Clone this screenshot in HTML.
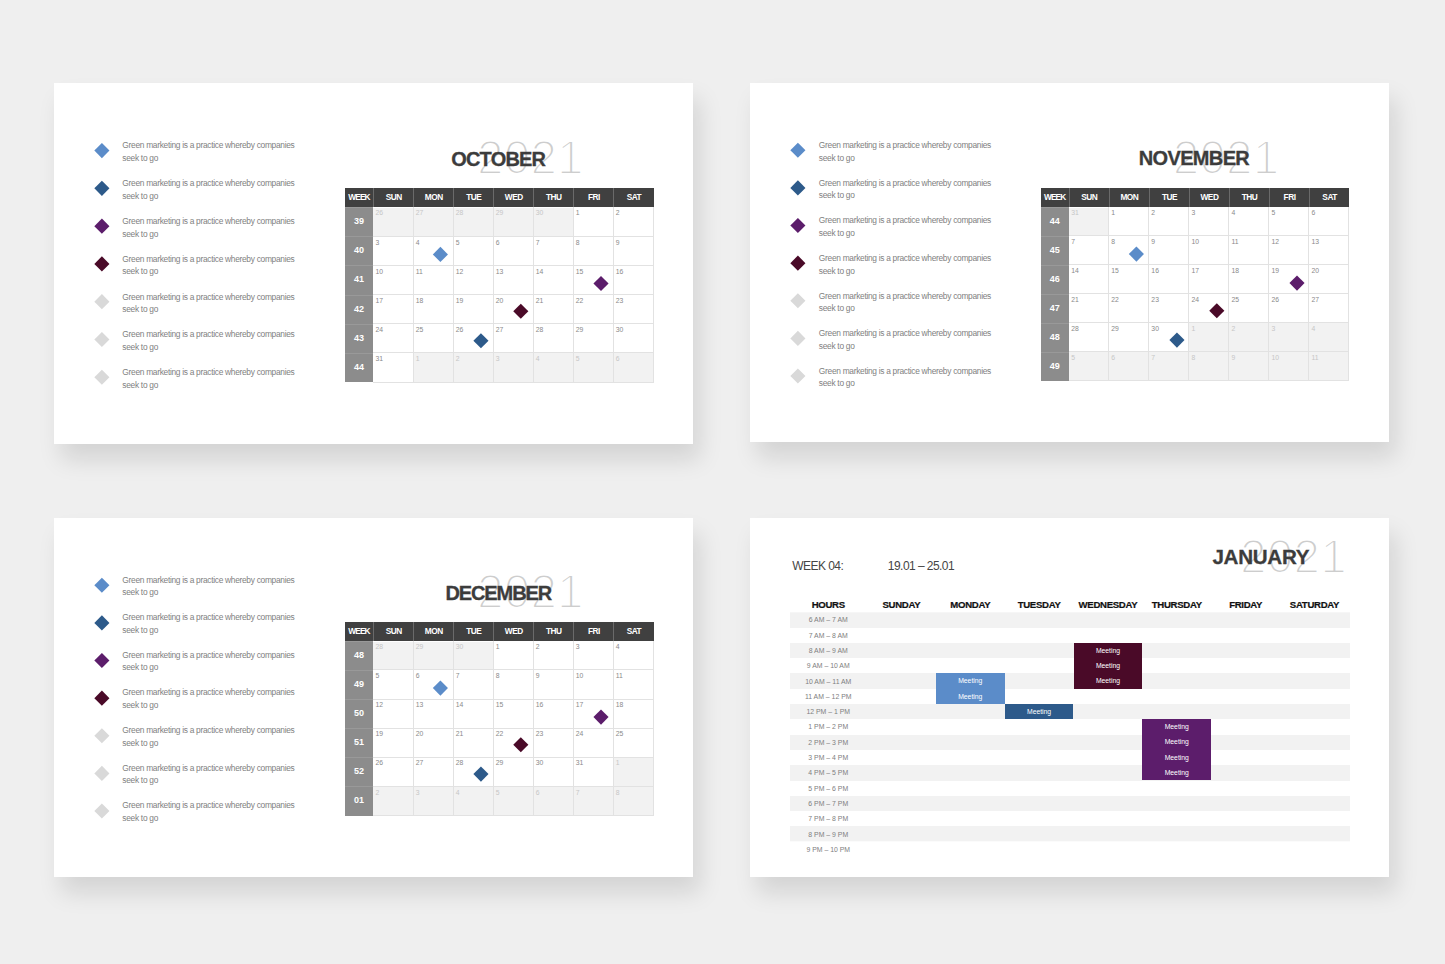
<!DOCTYPE html>
<html lang="en"><head><meta charset="utf-8"><title>Calendar slides</title>
<style>
*{margin:0;padding:0;box-sizing:border-box}
html,body{width:1445px;height:964px;overflow:hidden;background:#efefef}
body{position:relative;font-family:"Liberation Sans",sans-serif;color:#7f7f7f}
.card{position:absolute;width:639.2px;height:359px;background:#fff;
 box-shadow:7px 16px 22px rgba(0,0,0,.115)}
.abs{position:absolute}
.dm{position:absolute;left:0;top:0;width:10px;height:10px;transform-origin:5px 5px}
.lg{position:absolute;left:68.6px;width:200px;font-size:8.4px;letter-spacing:-.3px;line-height:12.5px;color:#7f7f7f;white-space:nowrap}
.ttl{position:absolute;font-weight:700;font-size:20px;line-height:24px;color:#3c3c3c;white-space:nowrap;text-align:center;-webkit-text-stroke:.3px #3c3c3c}
.yr{position:absolute;font-size:47.7px;line-height:48px;color:#cdcdcd;white-space:nowrap;-webkit-text-stroke:2.1px #fff;letter-spacing:.2px}
.cal{position:absolute;left:291.25px;top:105px;width:308.25px;height:194px}
.hd{position:absolute;top:0;background:#404040;color:#fff;font-weight:700;font-size:8.3px;text-align:center;border-left:1px solid #6a6a6a;letter-spacing:-.5px}
.hd.first{border-left:0}
.wk{position:absolute;left:0;width:28px;background:#8c8c8c;color:#fff;font-weight:700;font-size:9px;text-align:center;border-top:1px solid #999}
.c{position:absolute;width:40.04px;font-size:6.8px;line-height:8px;padding:2.3px 0 0 2.6px;color:#8a8a8a}
.c.o{background:#f2f2f2;color:#c6c6c6}
.vl{position:absolute;width:1px;background:#e2e2e2}
.hl{position:absolute;height:1px;background:#e2e2e2;left:28px;width:280.8px}
.sh{position:absolute;font-weight:700;font-size:9.6px;letter-spacing:-.3px;line-height:12px;color:#111;text-align:center;white-space:nowrap;-webkit-text-stroke:.2px #111}
.st{position:absolute;left:39.5px;top:0;width:560px;height:229.5px;transform:translateY(94.3px);background:repeating-linear-gradient(180deg,#f2f2f2 0,#f2f2f2 15.3px,#fff 15.3px,#fff 30.6px)}
.hr{position:absolute;left:39.5px;width:77px;text-align:center;font-size:6.9px;line-height:15.3px;height:15.3px;color:#808080;white-space:nowrap}
.mt{position:absolute;width:68.85px;color:#fff;font-size:6.8px;text-align:center}
.mt div{height:15.3px;line-height:16.2px}
.wl{position:absolute;font-size:12px;line-height:16px;color:#454545;letter-spacing:-.55px;white-space:nowrap}
</style></head><body>
<div class="card" style="left:53.75px;top:83.1px;height:360.9px">
<div class="dm" style="transform:translate(42.90px,62.58px) rotate(45deg) scale(1.07);background:#5b8cc9"></div>
<div class="lg" style="top:56.38px">Green marketing is a practice whereby companies<br>seek to go</div>
<div class="dm" style="transform:translate(42.90px,100.36px) rotate(45deg) scale(1.07);background:#2d5a8a"></div>
<div class="lg" style="top:94.16px">Green marketing is a practice whereby companies<br>seek to go</div>
<div class="dm" style="transform:translate(42.90px,138.14px) rotate(45deg) scale(1.07);background:#5c1d6b"></div>
<div class="lg" style="top:131.94px">Green marketing is a practice whereby companies<br>seek to go</div>
<div class="dm" style="transform:translate(42.90px,175.92px) rotate(45deg) scale(1.07);background:#4a0a28"></div>
<div class="lg" style="top:169.72px">Green marketing is a practice whereby companies<br>seek to go</div>
<div class="dm" style="transform:translate(42.90px,213.69px) rotate(45deg) scale(1.07);background:#d9d9d9"></div>
<div class="lg" style="top:207.49px">Green marketing is a practice whereby companies<br>seek to go</div>
<div class="dm" style="transform:translate(42.90px,251.47px) rotate(45deg) scale(1.07);background:#d9d9d9"></div>
<div class="lg" style="top:245.27px">Green marketing is a practice whereby companies<br>seek to go</div>
<div class="dm" style="transform:translate(42.90px,289.25px) rotate(45deg) scale(1.07);background:#d9d9d9"></div>
<div class="lg" style="top:283.05px">Green marketing is a practice whereby companies<br>seek to go</div>
<div class="yr" style="left:423.20px;top:50.71px">2021</div>
<div class="ttl" style="left:294.50px;width:300px;top:63.67px;letter-spacing:-0.8px">OCTOBER</div>
<div class="cal" style="left:291.25px;top:105.39px">
<div class="hd first" style="left:0;width:28px;letter-spacing:-.85px;height:18.58px;line-height:18.08px">WEEK</div>
<div class="hd" style="left:28.00px;width:40.34px;height:18.58px;line-height:18.08px">SUN</div>
<div class="hd" style="left:68.04px;width:40.34px;height:18.58px;line-height:18.08px">MON</div>
<div class="hd" style="left:108.08px;width:40.34px;height:18.58px;line-height:18.08px">TUE</div>
<div class="hd" style="left:148.12px;width:40.34px;height:18.58px;line-height:18.08px">WED</div>
<div class="hd" style="left:188.16px;width:40.34px;height:18.58px;line-height:18.08px">THU</div>
<div class="hd" style="left:228.20px;width:40.34px;height:18.58px;line-height:18.08px">FRI</div>
<div class="hd" style="left:268.24px;width:40.34px;height:18.58px;line-height:18.08px">SAT</div>
<div class="wk" style="top:18.58px;height:29.48px;line-height:27.78px">39</div>
<div class="c o" style="left:28.00px;top:18.58px;height:29.48px">26</div>
<div class="c o" style="left:68.04px;top:18.58px;height:29.48px">27</div>
<div class="c o" style="left:108.08px;top:18.58px;height:29.48px">28</div>
<div class="c o" style="left:148.12px;top:18.58px;height:29.48px">29</div>
<div class="c o" style="left:188.16px;top:18.58px;height:29.48px">30</div>
<div class="c" style="left:228.20px;top:18.58px;height:29.48px">1</div>
<div class="c" style="left:268.24px;top:18.58px;height:29.48px">2</div>
<div class="wk" style="top:47.76px;height:29.48px;line-height:27.78px">40</div>
<div class="c" style="left:28.00px;top:47.76px;height:29.48px">3</div>
<div class="c" style="left:68.04px;top:47.76px;height:29.48px">4</div>
<div class="c" style="left:108.08px;top:47.76px;height:29.48px">5</div>
<div class="c" style="left:148.12px;top:47.76px;height:29.48px">6</div>
<div class="c" style="left:188.16px;top:47.76px;height:29.48px">7</div>
<div class="c" style="left:228.20px;top:47.76px;height:29.48px">8</div>
<div class="c" style="left:268.24px;top:47.76px;height:29.48px">9</div>
<div class="wk" style="top:76.94px;height:29.48px;line-height:27.78px">41</div>
<div class="c" style="left:28.00px;top:76.94px;height:29.48px">10</div>
<div class="c" style="left:68.04px;top:76.94px;height:29.48px">11</div>
<div class="c" style="left:108.08px;top:76.94px;height:29.48px">12</div>
<div class="c" style="left:148.12px;top:76.94px;height:29.48px">13</div>
<div class="c" style="left:188.16px;top:76.94px;height:29.48px">14</div>
<div class="c" style="left:228.20px;top:76.94px;height:29.48px">15</div>
<div class="c" style="left:268.24px;top:76.94px;height:29.48px">16</div>
<div class="wk" style="top:106.12px;height:29.48px;line-height:27.78px">42</div>
<div class="c" style="left:28.00px;top:106.12px;height:29.48px">17</div>
<div class="c" style="left:68.04px;top:106.12px;height:29.48px">18</div>
<div class="c" style="left:108.08px;top:106.12px;height:29.48px">19</div>
<div class="c" style="left:148.12px;top:106.12px;height:29.48px">20</div>
<div class="c" style="left:188.16px;top:106.12px;height:29.48px">21</div>
<div class="c" style="left:228.20px;top:106.12px;height:29.48px">22</div>
<div class="c" style="left:268.24px;top:106.12px;height:29.48px">23</div>
<div class="wk" style="top:135.31px;height:29.48px;line-height:27.78px">43</div>
<div class="c" style="left:28.00px;top:135.31px;height:29.48px">24</div>
<div class="c" style="left:68.04px;top:135.31px;height:29.48px">25</div>
<div class="c" style="left:108.08px;top:135.31px;height:29.48px">26</div>
<div class="c" style="left:148.12px;top:135.31px;height:29.48px">27</div>
<div class="c" style="left:188.16px;top:135.31px;height:29.48px">28</div>
<div class="c" style="left:228.20px;top:135.31px;height:29.48px">29</div>
<div class="c" style="left:268.24px;top:135.31px;height:29.48px">30</div>
<div class="wk" style="top:164.49px;height:29.48px;line-height:27.78px">44</div>
<div class="c" style="left:28.00px;top:164.49px;height:29.48px">31</div>
<div class="c o" style="left:68.04px;top:164.49px;height:29.48px">1</div>
<div class="c o" style="left:108.08px;top:164.49px;height:29.48px">2</div>
<div class="c o" style="left:148.12px;top:164.49px;height:29.48px">3</div>
<div class="c o" style="left:188.16px;top:164.49px;height:29.48px">4</div>
<div class="c o" style="left:228.20px;top:164.49px;height:29.48px">5</div>
<div class="c o" style="left:268.24px;top:164.49px;height:29.48px">6</div>
<div class="hl" style="top:18.58px;background:#fff"></div>
<div class="vl" style="left:67.54px;top:18.58px;height:175.59px"></div>
<div class="vl" style="left:107.58px;top:18.58px;height:175.59px"></div>
<div class="vl" style="left:147.62px;top:18.58px;height:175.59px"></div>
<div class="vl" style="left:187.66px;top:18.58px;height:175.59px"></div>
<div class="vl" style="left:227.70px;top:18.58px;height:175.59px"></div>
<div class="vl" style="left:267.74px;top:18.58px;height:175.59px"></div>
<div class="vl" style="left:307.78px;top:18.58px;height:175.59px"></div>
<div class="hl" style="top:47.26px"></div>
<div class="hl" style="top:76.44px"></div>
<div class="hl" style="top:105.62px"></div>
<div class="hl" style="top:134.81px"></div>
<div class="hl" style="top:163.99px"></div>
<div class="hl" style="top:193.17px"></div>
<div class="dm" style="transform:translate(90.40px,61.38px) rotate(45deg) scale(1.07);background:#5b8cc9"></div>
<div class="dm" style="transform:translate(251.00px,90.50px) rotate(45deg) scale(1.07);background:#5c1d6b"></div>
<div class="dm" style="transform:translate(170.80px,118.27px) rotate(45deg) scale(1.07);background:#4a0a28"></div>
<div class="dm" style="transform:translate(130.95px,147.74px) rotate(45deg) scale(1.07);background:#2d5a8a"></div>
</div>
</div>
<div class="card" style="left:750.25px;top:83.1px;height:359.4px">
<div class="dm" style="transform:translate(42.90px,62.30px) rotate(45deg) scale(1.07);background:#5b8cc9"></div>
<div class="lg" style="top:56.10px">Green marketing is a practice whereby companies<br>seek to go</div>
<div class="dm" style="transform:translate(42.90px,99.92px) rotate(45deg) scale(1.07);background:#2d5a8a"></div>
<div class="lg" style="top:93.72px">Green marketing is a practice whereby companies<br>seek to go</div>
<div class="dm" style="transform:translate(42.90px,137.54px) rotate(45deg) scale(1.07);background:#5c1d6b"></div>
<div class="lg" style="top:131.34px">Green marketing is a practice whereby companies<br>seek to go</div>
<div class="dm" style="transform:translate(42.90px,175.16px) rotate(45deg) scale(1.07);background:#4a0a28"></div>
<div class="lg" style="top:168.96px">Green marketing is a practice whereby companies<br>seek to go</div>
<div class="dm" style="transform:translate(42.90px,212.78px) rotate(45deg) scale(1.07);background:#d9d9d9"></div>
<div class="lg" style="top:206.58px">Green marketing is a practice whereby companies<br>seek to go</div>
<div class="dm" style="transform:translate(42.90px,250.40px) rotate(45deg) scale(1.07);background:#d9d9d9"></div>
<div class="lg" style="top:244.20px">Green marketing is a practice whereby companies<br>seek to go</div>
<div class="dm" style="transform:translate(42.90px,288.02px) rotate(45deg) scale(1.07);background:#d9d9d9"></div>
<div class="lg" style="top:281.82px">Green marketing is a practice whereby companies<br>seek to go</div>
<div class="yr" style="left:422.40px;top:50.50px">2021</div>
<div class="ttl" style="left:293.70px;width:300px;top:63.40px;letter-spacing:-0.65px">NOVEMBER</div>
<div class="cal" style="left:290.45px;top:104.95px">
<div class="hd first" style="left:0;width:28px;letter-spacing:-.85px;height:18.50px;line-height:18.00px">WEEK</div>
<div class="hd" style="left:28.00px;width:40.34px;height:18.50px;line-height:18.00px">SUN</div>
<div class="hd" style="left:68.04px;width:40.34px;height:18.50px;line-height:18.00px">MON</div>
<div class="hd" style="left:108.08px;width:40.34px;height:18.50px;line-height:18.00px">TUE</div>
<div class="hd" style="left:148.12px;width:40.34px;height:18.50px;line-height:18.00px">WED</div>
<div class="hd" style="left:188.16px;width:40.34px;height:18.50px;line-height:18.00px">THU</div>
<div class="hd" style="left:228.20px;width:40.34px;height:18.50px;line-height:18.00px">FRI</div>
<div class="hd" style="left:268.24px;width:40.34px;height:18.50px;line-height:18.00px">SAT</div>
<div class="wk" style="top:18.50px;height:29.36px;line-height:27.66px">44</div>
<div class="c o" style="left:28.00px;top:18.50px;height:29.36px">31</div>
<div class="c" style="left:68.04px;top:18.50px;height:29.36px">1</div>
<div class="c" style="left:108.08px;top:18.50px;height:29.36px">2</div>
<div class="c" style="left:148.12px;top:18.50px;height:29.36px">3</div>
<div class="c" style="left:188.16px;top:18.50px;height:29.36px">4</div>
<div class="c" style="left:228.20px;top:18.50px;height:29.36px">5</div>
<div class="c" style="left:268.24px;top:18.50px;height:29.36px">6</div>
<div class="wk" style="top:47.56px;height:29.36px;line-height:27.66px">45</div>
<div class="c" style="left:28.00px;top:47.56px;height:29.36px">7</div>
<div class="c" style="left:68.04px;top:47.56px;height:29.36px">8</div>
<div class="c" style="left:108.08px;top:47.56px;height:29.36px">9</div>
<div class="c" style="left:148.12px;top:47.56px;height:29.36px">10</div>
<div class="c" style="left:188.16px;top:47.56px;height:29.36px">11</div>
<div class="c" style="left:228.20px;top:47.56px;height:29.36px">12</div>
<div class="c" style="left:268.24px;top:47.56px;height:29.36px">13</div>
<div class="wk" style="top:76.62px;height:29.36px;line-height:27.66px">46</div>
<div class="c" style="left:28.00px;top:76.62px;height:29.36px">14</div>
<div class="c" style="left:68.04px;top:76.62px;height:29.36px">15</div>
<div class="c" style="left:108.08px;top:76.62px;height:29.36px">16</div>
<div class="c" style="left:148.12px;top:76.62px;height:29.36px">17</div>
<div class="c" style="left:188.16px;top:76.62px;height:29.36px">18</div>
<div class="c" style="left:228.20px;top:76.62px;height:29.36px">19</div>
<div class="c" style="left:268.24px;top:76.62px;height:29.36px">20</div>
<div class="wk" style="top:105.68px;height:29.36px;line-height:27.66px">47</div>
<div class="c" style="left:28.00px;top:105.68px;height:29.36px">21</div>
<div class="c" style="left:68.04px;top:105.68px;height:29.36px">22</div>
<div class="c" style="left:108.08px;top:105.68px;height:29.36px">23</div>
<div class="c" style="left:148.12px;top:105.68px;height:29.36px">24</div>
<div class="c" style="left:188.16px;top:105.68px;height:29.36px">25</div>
<div class="c" style="left:228.20px;top:105.68px;height:29.36px">26</div>
<div class="c" style="left:268.24px;top:105.68px;height:29.36px">27</div>
<div class="wk" style="top:134.74px;height:29.36px;line-height:27.66px">48</div>
<div class="c" style="left:28.00px;top:134.74px;height:29.36px">28</div>
<div class="c" style="left:68.04px;top:134.74px;height:29.36px">29</div>
<div class="c" style="left:108.08px;top:134.74px;height:29.36px">30</div>
<div class="c o" style="left:148.12px;top:134.74px;height:29.36px">1</div>
<div class="c o" style="left:188.16px;top:134.74px;height:29.36px">2</div>
<div class="c o" style="left:228.20px;top:134.74px;height:29.36px">3</div>
<div class="c o" style="left:268.24px;top:134.74px;height:29.36px">4</div>
<div class="wk" style="top:163.80px;height:29.36px;line-height:27.66px">49</div>
<div class="c o" style="left:28.00px;top:163.80px;height:29.36px">5</div>
<div class="c o" style="left:68.04px;top:163.80px;height:29.36px">6</div>
<div class="c o" style="left:108.08px;top:163.80px;height:29.36px">7</div>
<div class="c o" style="left:148.12px;top:163.80px;height:29.36px">8</div>
<div class="c o" style="left:188.16px;top:163.80px;height:29.36px">9</div>
<div class="c o" style="left:228.20px;top:163.80px;height:29.36px">10</div>
<div class="c o" style="left:268.24px;top:163.80px;height:29.36px">11</div>
<div class="hl" style="top:18.50px;background:#fff"></div>
<div class="vl" style="left:67.54px;top:18.50px;height:174.86px"></div>
<div class="vl" style="left:107.58px;top:18.50px;height:174.86px"></div>
<div class="vl" style="left:147.62px;top:18.50px;height:174.86px"></div>
<div class="vl" style="left:187.66px;top:18.50px;height:174.86px"></div>
<div class="vl" style="left:227.70px;top:18.50px;height:174.86px"></div>
<div class="vl" style="left:267.74px;top:18.50px;height:174.86px"></div>
<div class="vl" style="left:307.78px;top:18.50px;height:174.86px"></div>
<div class="hl" style="top:47.06px"></div>
<div class="hl" style="top:76.12px"></div>
<div class="hl" style="top:105.18px"></div>
<div class="hl" style="top:134.24px"></div>
<div class="hl" style="top:163.30px"></div>
<div class="hl" style="top:192.36px"></div>
<div class="dm" style="transform:translate(90.40px,61.10px) rotate(45deg) scale(1.07);background:#5b8cc9"></div>
<div class="dm" style="transform:translate(251.00px,90.10px) rotate(45deg) scale(1.07);background:#5c1d6b"></div>
<div class="dm" style="transform:translate(170.80px,117.75px) rotate(45deg) scale(1.07);background:#4a0a28"></div>
<div class="dm" style="transform:translate(130.95px,147.10px) rotate(45deg) scale(1.07);background:#2d5a8a"></div>
</div>
</div>
<div class="card" style="left:53.75px;top:517.5px">
<div class="dm" style="transform:translate(42.90px,62.30px) rotate(45deg) scale(1.07);background:#5b8cc9"></div>
<div class="lg" style="top:56.10px">Green marketing is a practice whereby companies<br>seek to go</div>
<div class="dm" style="transform:translate(42.90px,99.92px) rotate(45deg) scale(1.07);background:#2d5a8a"></div>
<div class="lg" style="top:93.72px">Green marketing is a practice whereby companies<br>seek to go</div>
<div class="dm" style="transform:translate(42.90px,137.54px) rotate(45deg) scale(1.07);background:#5c1d6b"></div>
<div class="lg" style="top:131.34px">Green marketing is a practice whereby companies<br>seek to go</div>
<div class="dm" style="transform:translate(42.90px,175.16px) rotate(45deg) scale(1.07);background:#4a0a28"></div>
<div class="lg" style="top:168.96px">Green marketing is a practice whereby companies<br>seek to go</div>
<div class="dm" style="transform:translate(42.90px,212.78px) rotate(45deg) scale(1.07);background:#d9d9d9"></div>
<div class="lg" style="top:206.58px">Green marketing is a practice whereby companies<br>seek to go</div>
<div class="dm" style="transform:translate(42.90px,250.40px) rotate(45deg) scale(1.07);background:#d9d9d9"></div>
<div class="lg" style="top:244.20px">Green marketing is a practice whereby companies<br>seek to go</div>
<div class="dm" style="transform:translate(42.90px,288.02px) rotate(45deg) scale(1.07);background:#d9d9d9"></div>
<div class="lg" style="top:281.82px">Green marketing is a practice whereby companies<br>seek to go</div>
<div class="yr" style="left:423.20px;top:50.50px">2021</div>
<div class="ttl" style="left:294.50px;width:300px;top:63.40px;letter-spacing:-1.1px">DECEMBER</div>
<div class="cal" style="left:291.25px;top:104.95px">
<div class="hd first" style="left:0;width:28px;letter-spacing:-.85px;height:18.50px;line-height:18.00px">WEEK</div>
<div class="hd" style="left:28.00px;width:40.34px;height:18.50px;line-height:18.00px">SUN</div>
<div class="hd" style="left:68.04px;width:40.34px;height:18.50px;line-height:18.00px">MON</div>
<div class="hd" style="left:108.08px;width:40.34px;height:18.50px;line-height:18.00px">TUE</div>
<div class="hd" style="left:148.12px;width:40.34px;height:18.50px;line-height:18.00px">WED</div>
<div class="hd" style="left:188.16px;width:40.34px;height:18.50px;line-height:18.00px">THU</div>
<div class="hd" style="left:228.20px;width:40.34px;height:18.50px;line-height:18.00px">FRI</div>
<div class="hd" style="left:268.24px;width:40.34px;height:18.50px;line-height:18.00px">SAT</div>
<div class="wk" style="top:18.50px;height:29.36px;line-height:27.66px">48</div>
<div class="c o" style="left:28.00px;top:18.50px;height:29.36px">28</div>
<div class="c o" style="left:68.04px;top:18.50px;height:29.36px">29</div>
<div class="c o" style="left:108.08px;top:18.50px;height:29.36px">30</div>
<div class="c" style="left:148.12px;top:18.50px;height:29.36px">1</div>
<div class="c" style="left:188.16px;top:18.50px;height:29.36px">2</div>
<div class="c" style="left:228.20px;top:18.50px;height:29.36px">3</div>
<div class="c" style="left:268.24px;top:18.50px;height:29.36px">4</div>
<div class="wk" style="top:47.56px;height:29.36px;line-height:27.66px">49</div>
<div class="c" style="left:28.00px;top:47.56px;height:29.36px">5</div>
<div class="c" style="left:68.04px;top:47.56px;height:29.36px">6</div>
<div class="c" style="left:108.08px;top:47.56px;height:29.36px">7</div>
<div class="c" style="left:148.12px;top:47.56px;height:29.36px">8</div>
<div class="c" style="left:188.16px;top:47.56px;height:29.36px">9</div>
<div class="c" style="left:228.20px;top:47.56px;height:29.36px">10</div>
<div class="c" style="left:268.24px;top:47.56px;height:29.36px">11</div>
<div class="wk" style="top:76.62px;height:29.36px;line-height:27.66px">50</div>
<div class="c" style="left:28.00px;top:76.62px;height:29.36px">12</div>
<div class="c" style="left:68.04px;top:76.62px;height:29.36px">13</div>
<div class="c" style="left:108.08px;top:76.62px;height:29.36px">14</div>
<div class="c" style="left:148.12px;top:76.62px;height:29.36px">15</div>
<div class="c" style="left:188.16px;top:76.62px;height:29.36px">16</div>
<div class="c" style="left:228.20px;top:76.62px;height:29.36px">17</div>
<div class="c" style="left:268.24px;top:76.62px;height:29.36px">18</div>
<div class="wk" style="top:105.68px;height:29.36px;line-height:27.66px">51</div>
<div class="c" style="left:28.00px;top:105.68px;height:29.36px">19</div>
<div class="c" style="left:68.04px;top:105.68px;height:29.36px">20</div>
<div class="c" style="left:108.08px;top:105.68px;height:29.36px">21</div>
<div class="c" style="left:148.12px;top:105.68px;height:29.36px">22</div>
<div class="c" style="left:188.16px;top:105.68px;height:29.36px">23</div>
<div class="c" style="left:228.20px;top:105.68px;height:29.36px">24</div>
<div class="c" style="left:268.24px;top:105.68px;height:29.36px">25</div>
<div class="wk" style="top:134.74px;height:29.36px;line-height:27.66px">52</div>
<div class="c" style="left:28.00px;top:134.74px;height:29.36px">26</div>
<div class="c" style="left:68.04px;top:134.74px;height:29.36px">27</div>
<div class="c" style="left:108.08px;top:134.74px;height:29.36px">28</div>
<div class="c" style="left:148.12px;top:134.74px;height:29.36px">29</div>
<div class="c" style="left:188.16px;top:134.74px;height:29.36px">30</div>
<div class="c" style="left:228.20px;top:134.74px;height:29.36px">31</div>
<div class="c o" style="left:268.24px;top:134.74px;height:29.36px">1</div>
<div class="wk" style="top:163.80px;height:29.36px;line-height:27.66px">01</div>
<div class="c o" style="left:28.00px;top:163.80px;height:29.36px">2</div>
<div class="c o" style="left:68.04px;top:163.80px;height:29.36px">3</div>
<div class="c o" style="left:108.08px;top:163.80px;height:29.36px">4</div>
<div class="c o" style="left:148.12px;top:163.80px;height:29.36px">5</div>
<div class="c o" style="left:188.16px;top:163.80px;height:29.36px">6</div>
<div class="c o" style="left:228.20px;top:163.80px;height:29.36px">7</div>
<div class="c o" style="left:268.24px;top:163.80px;height:29.36px">8</div>
<div class="hl" style="top:18.50px;background:#fff"></div>
<div class="vl" style="left:67.54px;top:18.50px;height:174.86px"></div>
<div class="vl" style="left:107.58px;top:18.50px;height:174.86px"></div>
<div class="vl" style="left:147.62px;top:18.50px;height:174.86px"></div>
<div class="vl" style="left:187.66px;top:18.50px;height:174.86px"></div>
<div class="vl" style="left:227.70px;top:18.50px;height:174.86px"></div>
<div class="vl" style="left:267.74px;top:18.50px;height:174.86px"></div>
<div class="vl" style="left:307.78px;top:18.50px;height:174.86px"></div>
<div class="hl" style="top:47.06px"></div>
<div class="hl" style="top:76.12px"></div>
<div class="hl" style="top:105.18px"></div>
<div class="hl" style="top:134.24px"></div>
<div class="hl" style="top:163.30px"></div>
<div class="hl" style="top:192.36px"></div>
<div class="dm" style="transform:translate(90.40px,61.10px) rotate(45deg) scale(1.07);background:#5b8cc9"></div>
<div class="dm" style="transform:translate(251.00px,90.10px) rotate(45deg) scale(1.07);background:#5c1d6b"></div>
<div class="dm" style="transform:translate(170.80px,117.75px) rotate(45deg) scale(1.07);background:#4a0a28"></div>
<div class="dm" style="transform:translate(130.95px,147.10px) rotate(45deg) scale(1.07);background:#2d5a8a"></div>
</div>
</div>
<div class="card" style="left:750.25px;top:517.5px">
<div class="wl" style="left:42px;top:40.1px">WEEK 04:</div>
<div class="wl" style="left:137.6px;top:40.1px">19.01 – 25.01</div>
<div class="yr" style="left:489.85px;top:15.4px">2021</div>
<div class="ttl" style="left:410.6px;width:200px;top:27.9px;letter-spacing:-.28px;font-size:20.6px">JANUARY</div>
<div class="sh" style="left:39.5px;width:77px;top:81.4px">HOURS</div>
<div class="sh" style="left:116.75px;width:68.85px;top:81.4px">SUNDAY</div>
<div class="sh" style="left:185.60px;width:68.85px;top:81.4px">MONDAY</div>
<div class="sh" style="left:254.45px;width:68.85px;top:81.4px">TUESDAY</div>
<div class="sh" style="left:323.30px;width:68.85px;top:81.4px">WEDNESDAY</div>
<div class="sh" style="left:392.15px;width:68.85px;top:81.4px">THURSDAY</div>
<div class="sh" style="left:461.00px;width:68.85px;top:81.4px">FRIDAY</div>
<div class="sh" style="left:529.85px;width:68.85px;top:81.4px">SATURDAY</div>
<div class="st"></div>
<div class="hr" style="top:94.80px">6 AM – 7 AM</div>
<div class="hr" style="top:110.10px">7 AM – 8 AM</div>
<div class="hr" style="top:125.40px">8 AM – 9 AM</div>
<div class="hr" style="top:140.70px">9 AM – 10 AM</div>
<div class="hr" style="top:156.00px">10 AM – 11 AM</div>
<div class="hr" style="top:171.30px">11 AM – 12 PM</div>
<div class="hr" style="top:186.60px">12 PM – 1 PM</div>
<div class="hr" style="top:201.90px">1 PM – 2 PM</div>
<div class="hr" style="top:217.20px">2 PM – 3 PM</div>
<div class="hr" style="top:232.50px">3 PM – 4 PM</div>
<div class="hr" style="top:247.80px">4 PM – 5 PM</div>
<div class="hr" style="top:263.10px">5 PM – 6 PM</div>
<div class="hr" style="top:278.40px">6 PM – 7 PM</div>
<div class="hr" style="top:293.70px">7 PM – 8 PM</div>
<div class="hr" style="top:309.00px">8 PM – 9 PM</div>
<div class="hr" style="top:324.30px">9 PM – 10 PM</div>
<div class="mt" style="left:323.3px;top:125.20px;height:45.90px;background:#4a0a28"><div>Meeting</div><div>Meeting</div><div>Meeting</div></div>
<div class="mt" style="left:185.6px;top:155.80px;height:30.60px;background:#5b8cc9"><div>Meeting</div><div>Meeting</div></div>
<div class="mt" style="left:254.4px;top:186.40px;height:15.30px;background:#2d5a8a"><div>Meeting</div></div>
<div class="mt" style="left:392.1px;top:201.70px;height:61.20px;background:#5c1d6b"><div>Meeting</div><div>Meeting</div><div>Meeting</div><div>Meeting</div></div>
</div>
</body></html>
